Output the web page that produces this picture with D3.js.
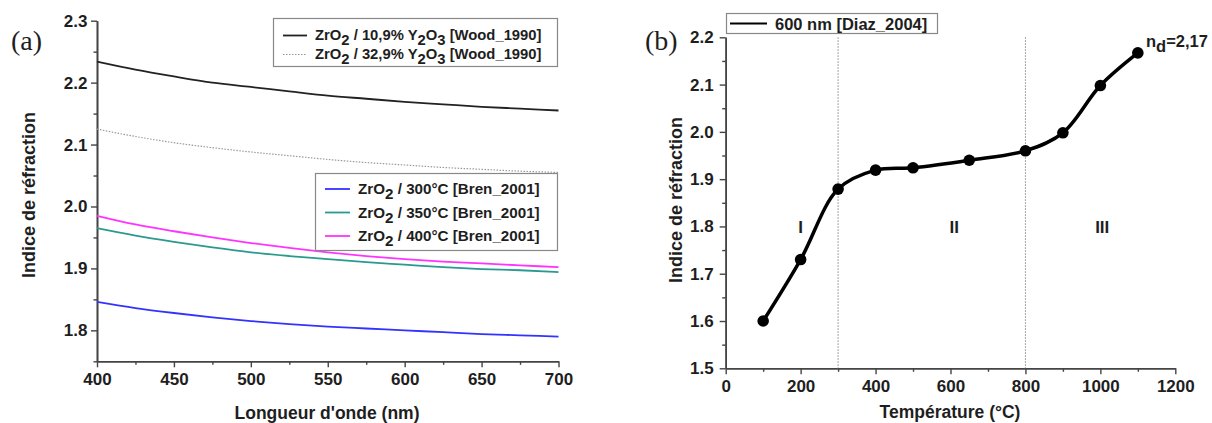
<!DOCTYPE html>
<html>
<head>
<meta charset="utf-8">
<script src="https://cdn.jsdelivr.net/npm/d3@7"></script>
<style>
  html, body { margin: 0; padding: 0; background: #fff; }
  svg { display: block; }
</style>
</head>
<body>
<svg id="chart" width="1212" height="423"></svg>
<script>
// ---------- Panel (a): refractive index vs wavelength ----------
const wavelengths = [400, 425, 450, 475, 500, 525, 550, 575, 600, 625, 650, 675, 700];
const wood109 = [2.234, 2.221, 2.210, 2.200, 2.193, 2.186, 2.179, 2.174, 2.169, 2.165, 2.161, 2.158, 2.155];
const wood329 = [2.125, 2.113, 2.103, 2.095, 2.088, 2.082, 2.076, 2.071, 2.067, 2.063, 2.060, 2.057, 2.055];
const bren300 = [1.846, 1.836, 1.828, 1.821, 1.815, 1.810, 1.806, 1.803, 1.800, 1.797, 1.794, 1.792, 1.790];
const bren350 = [1.965, 1.953, 1.943, 1.934, 1.926, 1.920, 1.915, 1.910, 1.906, 1.902, 1.899, 1.897, 1.894];
const bren400 = [1.985, 1.971, 1.960, 1.950, 1.941, 1.933, 1.926, 1.920, 1.915, 1.911, 1.908, 1.905, 1.902];
const ticksA_x = [400, 450, 500, 550, 600, 650, 700];
const ticksA_y = [1.8, 1.9, 2.0, 2.1, 2.2, 2.3];

// ---------- Panel (b): refractive index vs temperature ----------
const temperatures = [100, 200, 300, 400, 500, 650, 800, 900, 1000, 1100];
const diaz600 = [1.600, 1.730, 1.879, 1.919, 1.924, 1.940, 1.960, 1.998, 2.098, 2.167];
const ticksB_x = [0, 200, 400, 600, 800, 1000, 1200];
const ticksB_y = [1.5, 1.6, 1.7, 1.8, 1.9, 2.0, 2.1, 2.2];
const regionBounds = [300, 800];
const regionLabels = [{ t: 200, label: "I" }, { t: 610, label: "II" }, { t: 1005, label: "III" }];

const SANS = '"Liberation Sans", Arial, sans-serif';
const SERIF = '"Liberation Serif", "Times New Roman", serif';
const INK = "#1e1e1e";
const axisColor = "#444";

const svg = d3.select("#chart")
  .attr("font-family", SANS).attr("font-weight", "bold");

function styleAxis(g) {
  g.attr("font-family", SANS).attr("font-weight", "bold").attr("font-size", 17);
  g.selectAll("path.domain").attr("stroke", axisColor).attr("stroke-width", 1.6);
  g.selectAll(".tick line").attr("stroke", axisColor).attr("stroke-width", 1.4);
  g.selectAll(".tick text").attr("fill", INK);
}

function drawAxes(x, y, xTicks, yTicks, xMinor, yMinor, fmtX, fmtY, yPad) {
  svg.append("g").attr("transform", `translate(0,${y.range()[0]})`)
    .call(d3.axisBottom(x).tickValues(xMinor).tickSize(3.5).tickFormat("").tickSizeOuter(0))
    .call(styleAxis);
  svg.append("g").attr("transform", `translate(${x.range()[0]},0)`)
    .call(d3.axisLeft(y).tickValues(yMinor).tickSize(3.5).tickFormat("").tickSizeOuter(0))
    .call(styleAxis);
  svg.append("g").attr("transform", `translate(0,${y.range()[0]})`)
    .call(d3.axisBottom(x).tickValues(xTicks).tickSize(6).tickPadding(6).tickFormat(fmtX).tickSizeOuter(0))
    .call(styleAxis);
  svg.append("g").attr("transform", `translate(${x.range()[0]},0)`)
    .call(d3.axisLeft(y).tickValues(yTicks).tickSize(6).tickPadding(yPad).tickFormat(fmtY).tickSizeOuter(0))
    .call(styleAxis);
}

// text with subscripts: parts = [[text, "sub"|""], ...]
function richText(g, x, y, parts, size) {
  const t = g.append("text").attr("x", x).attr("y", y).attr("font-size", size).attr("fill", INK);
  parts.forEach(([s, kind]) => {
    const ts = t.append("tspan").text(s);
    if (kind === "sub") ts.attr("baseline-shift", "-30%");
  });
  return t;
}

function legendBox(x, y, w, h) {
  svg.append("rect").attr("x", x).attr("y", y).attr("width", w).attr("height", h)
    .attr("fill", "#fff").attr("stroke", "#888").attr("stroke-width", 1.2);
}

// ===== Panel (a) =====
const xA = d3.scaleLinear().domain([400, 700]).range([97, 558.5]);
const yA = d3.scaleLinear().domain([1.75, 2.3]).range([361.3, 20.7]);
const minorA_x = d3.range(425, 700, 50);
const minorA_y = [1.75, 1.85, 1.95, 2.05, 2.15, 2.25];
drawAxes(xA, yA, ticksA_x, ticksA_y, minorA_x, minorA_y, d3.format("d"), d3.format(".1f"), 3.5);

const lineA = d3.line().x((d, i) => xA(wavelengths[i])).y(d => yA(d)).curve(d3.curveMonotoneX);
const seriesA = [
  { values: wood109, color: "#222", width: 1.8, dash: null },
  { values: wood329, color: "#999", width: 1.2, dash: "1.5,1.5" },
  { values: bren300, color: "#3333ff", width: 1.8, dash: null },
  { values: bren350, color: "#2a9a8f", width: 1.8, dash: null },
  { values: bren400, color: "#ff33ff", width: 1.8, dash: null }
];
seriesA.forEach(s => {
  svg.append("path").datum(s.values).attr("d", lineA)
    .attr("fill", "none").attr("stroke", s.color).attr("stroke-width", s.width)
    .attr("stroke-dasharray", s.dash);
});

legendBox(273.5, 18.5, 284, 48);
const legA1 = [
  { color: "#222", dash: null, parts: [["ZrO", ""], ["2", "sub"], [" / 10,9% Y", ""], ["2", "sub"], ["O", ""], ["3", "sub"], [" [Wood_1990]", ""]] },
  { color: "#999", dash: "1.5,1.5", parts: [["ZrO", ""], ["2", "sub"], [" / 32,9% Y", ""], ["2", "sub"], ["O", ""], ["3", "sub"], [" [Wood_1990]", ""]] }
];
legA1.forEach((e, i) => {
  const cy = 35.5 + i * 19;
  svg.append("line").attr("x1", 283).attr("x2", 307).attr("y1", cy).attr("y2", cy)
    .attr("stroke", e.color).attr("stroke-width", e.dash ? 1.2 : 1.8).attr("stroke-dasharray", e.dash);
  richText(svg, 315, cy + 4.5, e.parts, 14.8);
});

legendBox(315.5, 173.5, 242, 77);
const legA2 = [
  { color: "#3333ff", parts: [["ZrO", ""], ["2", "sub"], [" / 300°C [Bren_2001]", ""]] },
  { color: "#2a9a8f", parts: [["ZrO", ""], ["2", "sub"], [" / 350°C [Bren_2001]", ""]] },
  { color: "#ff33ff", parts: [["ZrO", ""], ["2", "sub"], [" / 400°C [Bren_2001]", ""]] }
];
legA2.forEach((e, i) => {
  const cy = 189 + i * 23.5;
  svg.append("line").attr("x1", 325).attr("x2", 350).attr("y1", cy).attr("y2", cy)
    .attr("stroke", e.color).attr("stroke-width", 1.8);
  richText(svg, 358, cy + 5, e.parts, 15.2);
});

svg.append("text").attr("transform", "translate(35,195) rotate(-90)")
  .attr("text-anchor", "middle").attr("font-size", 18).attr("fill", INK).text("Indice de réfraction");
svg.append("text").attr("x", 327).attr("y", 419).attr("text-anchor", "middle")
  .attr("font-size", 17.5).attr("fill", INK).text("Longueur d'onde (nm)");
svg.append("text").attr("x", 11).attr("y", 50).attr("font-family", SERIF)
  .attr("font-weight", "normal").attr("font-size", 28).attr("fill", INK).text("(a)");

// ===== Panel (b) =====
const xB = d3.scaleLinear().domain([0, 1200]).range([725.7, 1175.3]);
const yB = d3.scaleLinear().domain([1.5, 2.2]).range([368.3, 37.3]);
const minorB_x = d3.range(100, 1200, 200);
const minorB_y = [1.55, 1.65, 1.75, 1.85, 1.95, 2.05, 2.15];
drawAxes(xB, yB, ticksB_x, ticksB_y, minorB_x, minorB_y, d3.format("d"), d3.format(".1f"), 6);

regionBounds.forEach(t => {
  svg.append("line").attr("x1", xB(t)).attr("x2", xB(t)).attr("y1", yB(2.2)).attr("y2", yB(1.5))
    .attr("stroke", "#888").attr("stroke-width", 1).attr("stroke-dasharray", "1.5,1.5");
});

const lineB = d3.line().x((d, i) => xB(temperatures[i])).y(d => yB(d)).curve(d3.curveCatmullRom.alpha(0.5));
svg.append("path").datum(diaz600).attr("d", lineB)
  .attr("fill", "none").attr("stroke", "#000").attr("stroke-width", 3.5);
svg.selectAll("circle.pt").data(diaz600).enter().append("circle")
  .attr("class", "pt").attr("cx", (d, i) => xB(temperatures[i])).attr("cy", d => yB(d))
  .attr("r", 5.8).attr("fill", "#000");

regionLabels.forEach(r => {
  svg.append("text").attr("x", xB(r.t)).attr("y", yB(1.8) + 6.5).attr("text-anchor", "middle")
    .attr("font-size", 17).attr("fill", INK).text(r.label);
});

richText(svg, 1146, 47, [["n", ""], ["d", "sub"], ["=2,17", ""]], 16.5);

legendBox(726.5, 13.5, 211, 20);
svg.append("line").attr("x1", 730).attr("x2", 767).attr("y1", 23.5).attr("y2", 23.5)
  .attr("stroke", "#000").attr("stroke-width", 2);
svg.append("text").attr("x", 775).attr("y", 29.5).attr("font-size", 16.5).attr("fill", INK)
  .text("600 nm [Diaz_2004]");

svg.append("text").attr("transform", "translate(682,200) rotate(-90)")
  .attr("text-anchor", "middle").attr("font-size", 18).attr("fill", INK).text("Indice de réfraction");
svg.append("text").attr("x", 950).attr("y", 418).attr("text-anchor", "middle")
  .attr("font-size", 17.5).attr("fill", INK).text("Température (°C)");
svg.append("text").attr("x", 645).attr("y", 50).attr("font-family", SERIF)
  .attr("font-weight", "normal").attr("font-size", 28).attr("fill", INK).text("(b)");
</script>
</body>
</html>
